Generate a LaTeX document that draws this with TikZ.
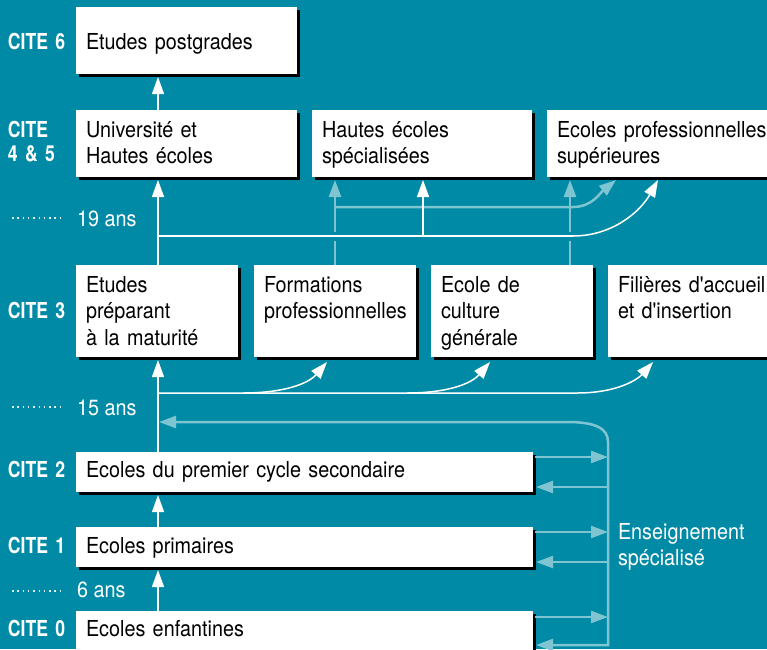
\documentclass[tikz,border=0pt]{standalone}
\usepackage{fontspec}
\setmainfont{TeX Gyre Heros}[FakeStretch=0.9, Ligatures=TeXOff]
\newfontfamily\citefont{TeX Gyre Heros}[FakeStretch=0.8]
\usetikzlibrary{arrows.meta,calc,shadows}
\definecolor{bgteal}{RGB}{0,138,165}
\definecolor{lblue}{RGB}{127,196,209}
\begin{document}
\begin{tikzpicture}[x=1pt,y=-1pt,
  font=\fontsize{22}{26.6}\selectfont,
  boxnode/.style={fill=white, draw=none, inner sep=0pt, outer sep=0pt, anchor=north west,
     general shadow={fill=black, shadow xshift=2.5pt, shadow yshift=-2.5pt}},
  txt/.style={anchor=base west, inner sep=0pt, outer sep=0pt, text width=440pt, align=left, text=black},
  cite/.style={anchor=base west, inner sep=0pt, outer sep=0pt, text width=70pt, align=left, text=white, font=\fontsize{22}{24}\selectfont\citefont\bfseries},
  age/.style={anchor=base west, inner sep=0pt, outer sep=0pt, text=white},
  wline/.style={draw=white, line width=1.5pt},
  wa/.style={wline, -{Triangle[length=17pt,width=12pt]}},
  lline/.style={draw=lblue, line width=2.5pt},
  la/.style={lline, -{Triangle[length=17pt,width=12pt]}},
  dotl/.style={draw=white!75!lblue, line width=1.5pt, dash pattern=on 1.5pt off 3.8pt}
]
\useasboundingbox (0,0) rectangle (767,649);
\clip (0,0) rectangle (767,649);
\fill[bgteal] (0,0) rectangle (767,649);

% boxes
\node[boxnode, minimum width=221pt, minimum height=67pt] (pg) at (76,7) {};
\node[boxnode, minimum width=221pt, minimum height=67pt] (uh) at (76,110) {};
\node[boxnode, minimum width=220pt, minimum height=67pt] (hes) at (312,110) {};
\node[boxnode, minimum width=240pt, minimum height=67pt] (eps) at (547,110) {};
\node[boxnode, minimum width=162pt, minimum height=92pt] (ep) at (76,265) {};
\node[boxnode, minimum width=162pt, minimum height=92pt] (fp) at (254,265) {};
\node[boxnode, minimum width=162pt, minimum height=92pt] (ecg) at (431,265) {};
\node[boxnode, minimum width=180pt, minimum height=92pt] (fil) at (608,265) {};
\node[boxnode, minimum width=457pt, minimum height=40pt] (s2) at (76,452) {};
\node[boxnode, minimum width=457pt, minimum height=40pt] (s1) at (76,527) {};
\node[boxnode, minimum width=457pt, minimum height=50pt] (s0) at (76,611) {};

% box texts
\node[txt] (pg-t) at (86,49) {Etudes postgrades};
\node[txt] (uh-t) at (86,137) {Université et\\Hautes écoles};
\node[txt] (hes-t) at (322,137) {Hautes écoles\\spécialisées};
\node[txt] (eps-t) at (557,137) {Ecoles professionnelles\\supérieures};
\node[txt] (ep-t) at (86,292) {Etudes\\préparant\\à la maturité};
\node[txt] (fp-t) at (264,292) {Formations\\professionnelles};
\node[txt] (ecg-t) at (441,292) {Ecole de\\culture\\générale};
\node[txt] (fil-t) at (618,292) {Filières d'accueil\\et d'insertion};
\node[txt] (s2-t) at (86,477) {Ecoles du premier cycle secondaire};
\node[txt] (s1-t) at (86,553) {Ecoles primaires};
\node[txt] (s0-t) at (86,636) {Ecoles enfantines};

% level labels
\node[cite] (c6) at (8,49) {CITE 6};
\node[cite] (c45) at (8,137) {CITE\\4 \& 5};
\node[cite] (c3) at (8,318) {CITE 3};
\node[cite] (c2) at (8,477) {CITE 2};
\node[cite] (c1) at (8,553) {CITE 1};
\node[cite] (c0) at (8,636) {CITE 0};

% ages
\draw[dotl] (12,218) -- (64,218);
\draw[dotl] (12,407) -- (64,407);
\draw[dotl] (12,591) -- (64,591);
\node[age] (a19) at (77,226) {19 ans};
\node[age] (a15) at (77,415) {15 ans};
\node[age] (a6) at (77,597) {6 ans};
\node[age, align=left, anchor=base west, text width=150pt] (ens) at (618,539) {Enseignement\\spécialisé};

% helper coordinates
\coordinate (mx) at (158,0);
\coordinate (lx1) at (335,0);
\coordinate (lx2) at (570,0);
\coordinate (wx) at (423,0);
\coordinate (j1) at (335,207);
\coordinate (j1e) at (573,207);
\coordinate (j2) at (158,236);
\coordinate (j2e) at (573,236);
\coordinate (j4) at (158,393);
\coordinate (j4e) at (577,393);
\coordinate (b1) at (243,393);
\coordinate (b2) at (407,393);
\coordinate (k1) at (608,645);
\coordinate (k2) at (608,442);
\coordinate (k3) at (567,422);
\coordinate (k4) at (159,422);

% light blue connectors (upper)
\draw[la] (fp.north -| lx1) -- ($(hes.south -| lx1)+(0,3)$);
\draw[la] (ecg.north -| lx2) -- ($(eps.south -| lx2)+(0,3)$);
\draw[la] (j1) -- (j1e) .. controls (592,207) and (600,193) .. ($(eps.south west)+(69,3)$);

% white connectors (upper)
\draw[wline, preaction={draw=bgteal, line width=9pt}] (j2) -- (j2e);
\draw[wa] (j2e) .. controls (612,236) and (640,212) .. ($(eps.south west)+(111,3)$);
\draw[wa] (wx |- j2) -- ($(hes.south -| wx)+(0,3)$);
\draw[wa] (uh.north -| mx) -- ($(pg.south -| mx)+(0,3)$);
\draw[wa] (ep.north -| mx) -- ($(uh.south -| mx)+(0,3)$);

% CITE 3 connectors
\draw[wa] (j4) -- (j4e) .. controls (618,393) and (638,379) .. ($(fil.south west)+(45,5)$);
\draw[wa] (b1) .. controls (283,393) and (308,384) .. ($(fp.south west)+(73,5)$);
\draw[wa] (b2) .. controls (447,393) and (471,384) .. ($(ecg.south west)+(59,5)$);
\draw[wa] (s2.north -| mx) -- ($(ep.south -| mx)+(0,3)$);
\draw[wa] (s1.north -| mx) -- ($(s2.south -| mx)+(0,3)$);
\draw[wa] (s0.north -| mx) -- ($(s1.south -| mx)+(0,3)$);

% special education loop
\draw[lline, {Triangle[length=17pt,width=12pt]}-{Triangle[length=17pt,width=12pt]}]
  ($(s0.north east)+(3,34)$) -- (k1) -- (k2) .. controls (608,428) and (595,422) .. (k3) -- (k4);
\draw[la] ($(s2.north east)+(2,5)$) -- ($(s2.north east)+(75,5)$);
\draw[la] ($(s2.south east)+(75,-5)$) -- ($(s2.south east)+(3,-5)$);
\draw[la] ($(s1.north east)+(2,5)$) -- ($(s1.north east)+(75,5)$);
\draw[la] ($(s1.south east)+(75,-5)$) -- ($(s1.south east)+(3,-5)$);
\draw[la] ($(s0.north east)+(2,6)$) -- ($(s0.north east)+(75,6)$);
\end{tikzpicture}
\end{document}
